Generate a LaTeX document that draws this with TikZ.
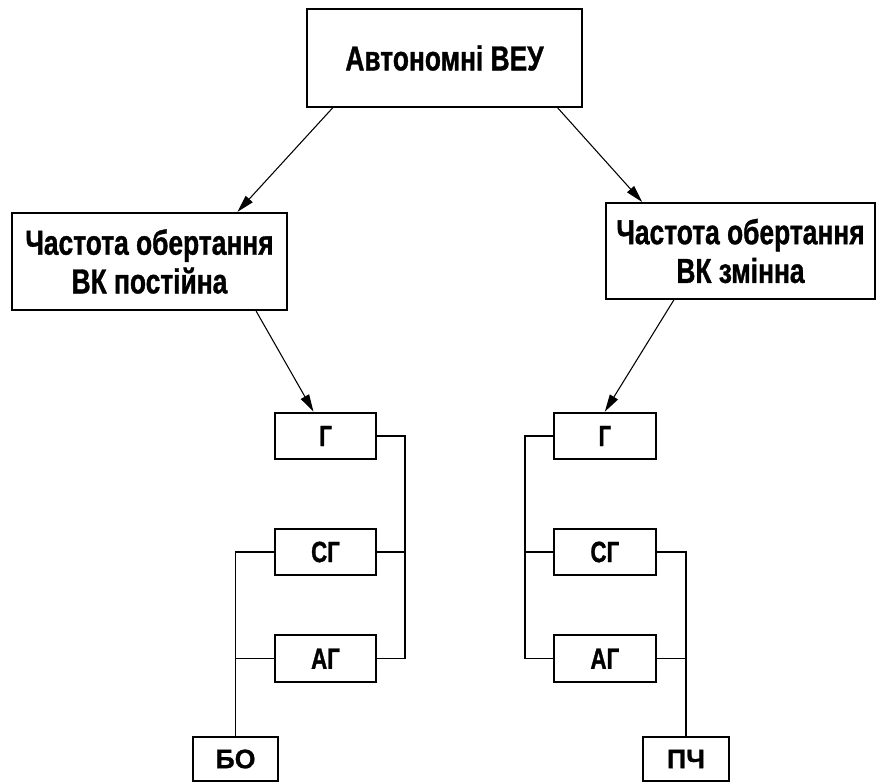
\documentclass[tikz,border=0pt]{standalone}
\usepackage{fontspec}
\setmainfont{Liberation Sans}[FakeStretch=0.76, BoldFeatures={FakeBold=1}]
\newfontfamily\widefont{Liberation Sans}[BoldFeatures={FakeBold=1}]
\usetikzlibrary{positioning, arrows.meta}

\begin{document}
\begin{tikzpicture}[x=0.75pt, y=-0.75pt, on grid, line width=0.8pt,
       >={Triangle[length=13pt,width=7pt]},
       block/.style={draw, line width=1.5pt, align=center, minimum width=206pt, minimum height=73pt,
                     font=\bfseries\fontsize{26}{29}\selectfont},
       unit/.style={draw, line width=1.5pt, minimum width=76pt, minimum height=35pt,
                    font=\bfseries\fontsize{22}{26}\selectfont},
       load/.style={unit, minimum width=64pt, minimum height=33pt,
                    font=\widefont\bfseries\fontsize{20}{24}\selectfont}]
       \useasboundingbox (0,0) rectangle (877,783);

       \node[block] (veu) at (444.5,58) {Автономні ВЕУ};
       \node[block] (const) at (149.5,261.5) {Частота обертання\\ВК постійна};
       \node[block, minimum width=202pt, minimum height=72pt] (var) at (740.5,251) {Частота обертання\\ВК змінна};

       \node[unit] (gL) at (325.5,436) {Г};
       \node[unit] (sgL) [below=87pt of gL] {СГ};
       \node[unit] (agL) [below=80pt of sgL] {АГ};
       \node[unit] (gR) [right=209.5pt of gL] {Г};
       \node[unit] (sgR) [right=209.5pt of sgL] {СГ};
       \node[unit] (agR) [right=209.5pt of agL] {АГ};

       \node[load] (bo) at (235.5,759) {БО};
       \node[load] (pch) at (686,759) {ПЧ};

       \coordinate (busL) at (405,440);
       \coordinate (busR) at (525,440);

       \draw[->] ([xshift=20pt]veu.south west) -- ([xshift=66pt]const.north);
       \draw[->] ([xshift=-19pt]veu.south east) -- ([xshift=28pt]var.north west);
       \draw[->] ([xshift=80pt]const.south) -- ([xshift=-9pt]gL.north);
       \draw[->] ([xshift=-50pt]var.south) -- (gR.north);

       \draw (gL.east) -- (gL.east -| busL) |- (agL.east);
       \draw (sgL.east) -- (sgL.east -| busL);
       \draw (sgL.west) -| (bo.north);
       \draw (agL.west) -- (agL.west -| bo.north);

       \draw (gR.west) -- (gR.west -| busR) |- (agR.west);
       \draw (sgR.west) -- (sgR.west -| busR);
       \draw (sgR.east) -| (pch.north);
       \draw (agR.east) -- (agR.east -| pch.north);
\end{tikzpicture}
\end{document}
